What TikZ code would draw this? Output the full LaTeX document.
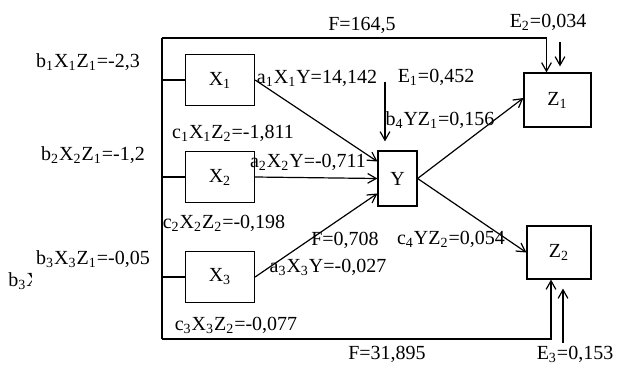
\documentclass[tikz,border=0pt]{standalone}
\usepackage{fontspec}
\setmainfont{Liberation Serif}
\usetikzlibrary{arrows.meta,calc}
\tikzset{box/.style={draw,line width=0.6pt,inner sep=0pt,minimum width=34.5pt,minimum height=25.5pt}, lbl/.style={inner sep=0pt}, arr/.style={-{Straight Barb[length=1.5mm,width=1.7mm]},line width=0.6pt}, ln/.style={line width=0.6pt}}

\begin{document}
\begin{tikzpicture}[x=0.5pt,y=-0.5pt]
\useasboundingbox (0,0) rectangle (617,365);
\node[box] (x1) at (220,80) {X\textsubscript{1}};
\node[box] (x2) at (220,177) {X\textsubscript{2}};
\node[box] (x3) at (220,277) {X\textsubscript{3}};
\node[box,minimum width=19.5pt,minimum height=27.5pt] (y) at (397.5,178.5) {Y};
\node[box,minimum width=33.5pt,minimum height=27pt] (z1) at (557.5,100) {Z\textsubscript{1}};
\node[box,minimum width=32pt,minimum height=26.5pt] (z2) at (559,252.5) {Z\textsubscript{2}};
\coordinate (tl) at (162,38);\coordinate (bl) at (162,339);
\coordinate (e1) at (385,82);\coordinate (e2) at (560,42);\coordinate (e3) at (563,343);
% frame round the X boxes
\draw[ln] (tl)--(bl);
\draw[ln] (x1.west)--(x1.west -| tl);\draw[ln] (x2.west)--(x2.west -| tl);\draw[ln] (x3.west)--(x3.west -| tl);
\draw[arr] (tl)-|([xshift=-5.5pt]z1.north);\draw[arr] (bl)-|([xshift=-4pt]z2.south);
% paths
\draw[arr] (x1.east)--([yshift=8.5pt]y.west);\draw[arr] (x2.east)--(y.west);\draw[arr] (x3.east)--([yshift=-7.5pt]y.west);
\draw[arr] (y.east)--([yshift=1pt]z1.west);\draw[arr] (y.east)--(z2.west);
\draw[arr] (e1)--([yshift=4.5pt]y.north -| e1);
\draw[arr] (e2)--([yshift=3pt]z1.north -| e2);
\draw[arr] (e3)--([yshift=-4.5pt]z2.south -| e3);
% labels
\node[lbl] (lb1) at (88,62) {b\textsubscript{1}X\textsubscript{1}Z\textsubscript{1}=-2,3};
\node[lbl] (lb2) at (93,155) {b\textsubscript{2}X\textsubscript{2}Z\textsubscript{1}=-1,2};
\node[lbl] (lb3) at (93,259) {b\textsubscript{3}X\textsubscript{3}Z\textsubscript{1}=-0,05};
\begin{scope}
\clip (0,265) rectangle (31,295);
\node[lbl,anchor=west] (lb3b) at (8,281) {b\textsubscript{3}X\textsubscript{3}Z\textsubscript{1}=-0,05};
\end{scope}
\node[lbl] (lc1) at (233,133) {c\textsubscript{1}X\textsubscript{1}Z\textsubscript{2}=-1,811};
\node[lbl] (lc2) at (224,223) {c\textsubscript{2}X\textsubscript{2}Z\textsubscript{2}=-0,198};
\node[lbl] (lc3) at (236,325) {c\textsubscript{3}X\textsubscript{3}Z\textsubscript{2}=-0,077};
\node[lbl] (la1) at (317,78) {a\textsubscript{1}X\textsubscript{1}Y=14,142};
\node[lbl] (la2) at (308,162) {a\textsubscript{2}X\textsubscript{2}Y=-0,711};
\node[lbl] (la3) at (328,267) {a\textsubscript{3}X\textsubscript{3}Y=-0,027};
\node[lbl] (lf0) at (345,240) {F=0,708};
\node[lbl] (lc4) at (451,239) {c\textsubscript{4}YZ\textsubscript{2}=0,054};
\node[lbl] (le1) at (436,77) {E\textsubscript{1}=0,452};
\node[lbl] (lb4) at (440,120) {b\textsubscript{4}YZ\textsubscript{1}=0,156};
\node[lbl] (lf1) at (362,25) {F=164,5};
\node[lbl] (le2) at (548,22) {E\textsubscript{2}=0,034};
\node[lbl] (lf2) at (387,354) {F=31,895};
\node[lbl] (le3) at (575,354) {E\textsubscript{3}=0,153};
\end{tikzpicture}
\end{document}
